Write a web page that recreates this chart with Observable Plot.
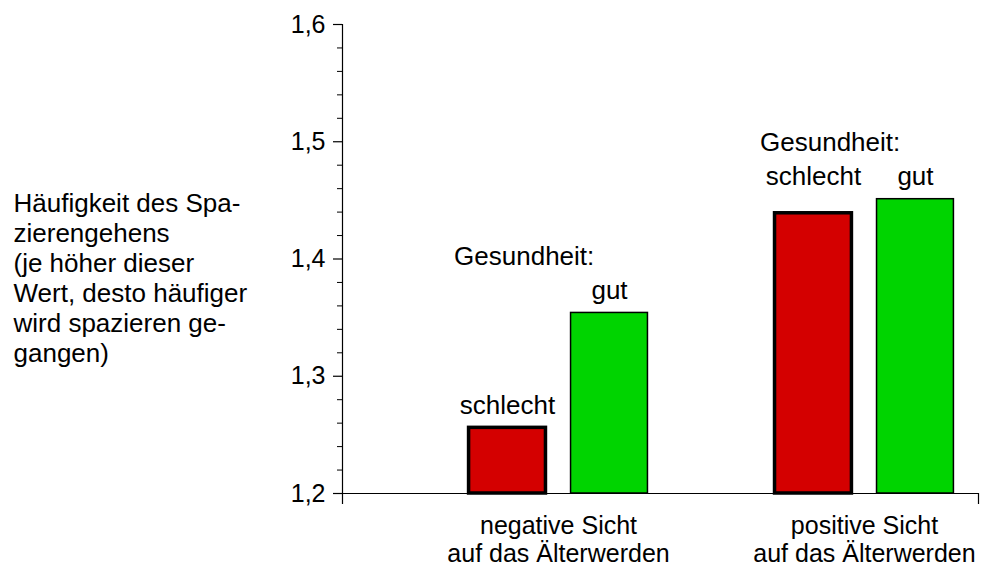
<!DOCTYPE html>
<html>
<head>
<meta charset="utf-8">
<script src="https://cdn.jsdelivr.net/npm/d3@7"></script>
<script src="https://cdn.jsdelivr.net/npm/@observablehq/plot@0.6"></script>
<style>
  html, body { margin: 0; padding: 0; background: #fff; }
  svg { font-family: "Liberation Sans", Arial, sans-serif; }
</style>
</head>
<body>
<div id="chart"></div>
<script>
// ---- data ----
const groups = ["negative Sicht\nauf das Älterwerden", "positive Sicht\nauf das Älterwerden"];
const health = ["schlecht", "gut"];
const negativeValues = [1.256, 1.354];
const positiveValues = [1.439, 1.451];
const yTicks = [1.2, 1.3, 1.4, 1.5, 1.6];
const yLabel = "Häufigkeit des Spa-\nzierengehens\n(je höher dieser\nWert, desto häufiger\nwird spazieren ge-\ngangen)";
const headerText = "Gesundheit:";

// ---- layout derived from indices (one empty slot between groups) ----
const seriesByGroup = [negativeValues, positiveValues];
const slotsPerGroup = health.length + 1;
const halfBar = 0.377;
const rows = groups.flatMap((g, i) => health.map((h, j) => ({
  group: g, health: h, value: seriesByGroup[i][j], pos: i * slotsPerGroup + j
})));
const groupInfo = groups.map((g, i) => ({
  group: g,
  center: i * slotsPerGroup + (health.length - 1) / 2,
  left: i * slotsPerGroup - halfBar,
  max: d3.max(seriesByGroup[i])
}));
const groupMax = new Map(groupInfo.map(d => [d.group, d.max]));
const labelY = d => (groupMax.get(d.group) - d.value < 0.05 ? groupMax.get(d.group) : d.value);
const fmt = d => d.toFixed(1).replace(".", ",");
const minorTicks = d3.range(0, 21).map(i => 1.2 + i * 0.02).filter((v, i) => i % 5 !== 0);
const xDomain = [-1.618, 4.618];
const yDomain = [1.2, 1.6];
const outerTick = 1.2 - 0.0094;

const chart = Plot.plot({
  width: 983,
  height: 568,
  marginLeft: 342,
  marginRight: 5,
  marginTop: 24,
  marginBottom: 75,
  style: {fontSize: "26px", fontFamily: "'Liberation Sans', Arial, sans-serif", color: "#000", background: "#fff"},
  x: {domain: xDomain, axis: null},
  y: {domain: yDomain, axis: null},
  color: {domain: health, range: ["#d40000", "#00d400"]},
  marks: [
    Plot.rectY(rows, {
      x1: d => d.pos - halfBar, x2: d => d.pos + halfBar, y1: yDomain[0], y2: "value",
      fill: "health", stroke: "#000",
      strokeWidth: d => (d.health === "schlecht" ? 3.5 : 1.5)
    }),
    Plot.ruleY([yDomain[0]], {stroke: "#000", strokeWidth: 1.2}),
    Plot.ruleX([xDomain[0]], {y1: outerTick, y2: yDomain[1], stroke: "#000", strokeWidth: 1.2}),
    Plot.ruleX([xDomain[1]], {y1: outerTick, y2: yDomain[0], stroke: "#000", strokeWidth: 1.2}),
    Plot.axisY(yTicks, {tickSize: 9, tickPadding: 8, tickFormat: fmt, fontSize: 25, label: null, strokeWidth: 1.2}),
    Plot.axisY(minorTicks, {tickSize: 5, text: null, label: null}),
    Plot.text(rows, {
      x: "pos", y: labelY, text: "health",
      lineAnchor: "bottom", dy: -14, fontSize: 26, fill: "#000"
    }),
    Plot.text(groupInfo, {
      x: "left", y: "max", text: () => headerText,
      textAnchor: "start", lineAnchor: "bottom",
      dx: -15, dy: -48, fontSize: 26, fill: "#000"
    }),
    Plot.text(groupInfo, {
      x: "center", y: yDomain[0], text: "group", lineAnchor: "top",
      dy: 21, lineHeight: 1.1, fontSize: 25, fill: "#000"
    }),
    Plot.text([yLabel], {
      frameAnchor: "left", textAnchor: "start", lineAnchor: "middle",
      dx: -329, dy: 18, lineHeight: 1.154, fontSize: 26, fill: "#000"
    })
  ]
});
document.getElementById("chart").appendChild(chart);
</script>
</body>
</html>
